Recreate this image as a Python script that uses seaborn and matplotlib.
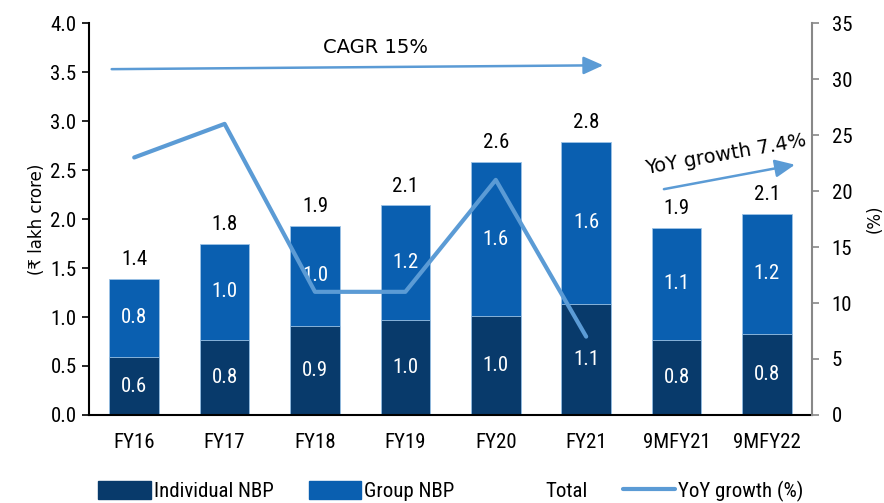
import numpy as np
import pandas as pd
import matplotlib
matplotlib.use("Agg")
import matplotlib.pyplot as plt
import seaborn as sns
from matplotlib.patches import Patch
from matplotlib.lines import Line2D

# --- data ---
categories = ["FY16", "FY17", "FY18", "FY19", "FY20", "FY21", "9MFY21", "9MFY22"]
individual_nbp = [0.59, 0.77, 0.91, 0.97, 1.01, 1.13, 0.77, 0.83]
total_nbp = [1.39, 1.75, 1.93, 2.14, 2.58, 2.79, 1.91, 2.05]
individual_labels = ["0.6", "0.8", "0.9", "1.0", "1.0", "1.1", "0.8", "0.8"]
group_labels = ["0.8", "1.0", "1.0", "1.2", "1.6", "1.6", "1.1", "1.2"]
total_labels = ["1.4", "1.8", "1.9", "2.1", "2.6", "2.8", "1.9", "2.1"]
yoy_categories = ["FY16", "FY17", "FY18", "FY19", "FY20", "FY21"]
yoy_growth = [23.0, 26.0, 11.0, 11.0, 21.0, 7.0]

group_nbp = [t - i for t, i in zip(total_nbp, individual_nbp)]

sns.set_theme(style="white")
narrow = ["Liberation Sans Narrow", "Roboto Condensed", "Liberation Sans", "DejaVu Sans"]
plt.rcParams["font.family"] = narrow
plt.rcParams["text.color"] = "black"
plt.rcParams["xtick.color"] = "black"
plt.rcParams["ytick.color"] = "black"
plt.rcParams["axes.labelcolor"] = "black"

C_IND = "#083a6b"
C_GRP = "#0a5fb0"
C_LINE = "#5b9bd5"
FS = 15

df = pd.DataFrame({"cat": categories, "ind": individual_nbp, "tot": total_nbp})

fig = plt.figure(figsize=(8.84, 5.03), dpi=100)
ax = fig.add_axes([0.1007, 0.175, 0.818, 0.779])

# total bar drawn first (group colour), individual overlaid at bottom
sns.barplot(data=df, x="cat", y="tot", color=C_GRP, width=0.55, ax=ax,
            edgecolor="#9cc3e6", linewidth=0.6, saturation=1, label="_t")
sns.barplot(data=df, x="cat", y="ind", color=C_IND, width=0.55, ax=ax,
            edgecolor="#9cc3e6", linewidth=0.6, saturation=1, label="_i")

for i in range(len(categories)):
    ax.text(i, individual_nbp[i] / 2, individual_labels[i], ha="center", va="center",
            color="white", fontsize=FS)
    ax.text(i, individual_nbp[i] + group_nbp[i] / 2, group_labels[i], ha="center",
            va="center", color="white", fontsize=FS)
    ax.text(i, total_nbp[i] + 0.1, total_labels[i], ha="center", va="bottom",
            color="black", fontsize=FS)

ax.set_ylim(0, 4.0)
ax.set_xlim(-0.5, len(categories) - 0.5)
yt = np.arange(0, 4.01, 0.5)
ax.set_yticks(yt)
ax.set_yticklabels([f"{v:.1f}" for v in yt], fontsize=FS)
ax.set_xticks(range(len(categories)))
ax.set_xticklabels(categories, fontsize=FS)
ax.tick_params(axis="x", length=0, pad=13)
ax.set_xticks(np.arange(-0.5, len(categories), 1), minor=True)
ax.tick_params(axis="x", which="minor", length=6, width=1.2, color="black", direction="out")
ax.tick_params(axis="y", length=5, width=1.2, color="black", direction="out", left=True, pad=4)
ax.set_xlabel("")
ax.set_ylabel("(₹ lakh crore)", fontsize=12, family=["DejaVu Sans"], labelpad=3)
for s in ["top", "right"]:
    ax.spines[s].set_visible(False)
ax.spines["left"].set_color("black")
ax.spines["left"].set_linewidth(1.5)
ax.spines["bottom"].set_color("black")
ax.spines["bottom"].set_linewidth(1.5)

# secondary axis with YoY growth
ax2 = ax.twinx()
yoy_pos = [categories.index(c) for c in yoy_categories]
sns.lineplot(x=yoy_pos, y=yoy_growth, ax=ax2, color=C_LINE, linewidth=3, legend=False)
ax2.set_ylim(0, 35)
ax2.set_yticks(range(0, 36, 5))
ax2.set_yticklabels([str(v) for v in range(0, 36, 5)], fontsize=FS)
ax2.tick_params(axis="y", length=5, width=1.2, color="#888888", direction="out", right=True, pad=9)
ax2.set_ylabel("(%)", fontsize=12, rotation=90, family=["DejaVu Sans"], labelpad=10)
for s in ["top", "left", "bottom"]:
    ax2.spines[s].set_visible(False)
ax2.spines["right"].set_visible(True)
ax2.spines["right"].set_color("#888888")
ax2.spines["right"].set_linewidth(1.5)
ax2.grid(False)

# annotation arrows
ax.annotate("", xy=(5.22, 3.57), xytext=(-0.28, 3.53),
            arrowprops=dict(arrowstyle="-|>,head_length=1.0,head_width=0.45",
                            color=C_LINE, lw=1.8))
ax.text(2.67, 3.75, "CAGR 15%", ha="center", va="center", fontsize=14,
        family=["DejaVu Sans"])
ax.annotate("", xy=(7.34, 2.56), xytext=(5.83, 2.30),
            arrowprops=dict(arrowstyle="-|>,head_length=1.0,head_width=0.45",
                            color=C_LINE, lw=1.8))
ax.text(6.55, 2.66, "YoY growth 7.4%", ha="center", va="center", fontsize=14,
        rotation=10, family=["DejaVu Sans"])

# legend
handles = [Patch(facecolor=C_IND, edgecolor=C_IND),
           Patch(facecolor=C_GRP, edgecolor=C_GRP),
           Patch(facecolor="none", edgecolor="none"),
           Line2D([0], [0], color=C_LINE, linewidth=3)]
labels = ["Individual NBP", "Group NBP", "Total", "YoY growth (%)"]
fig.legend(handles, labels, loc="lower center", bbox_to_anchor=(0.51, -0.035), ncol=4,
           frameon=False, fontsize=FS, handlelength=2.5, handleheight=0.9,
           columnspacing=1.7, handletextpad=0.15)

plt.savefig("out.png", dpi=100)
